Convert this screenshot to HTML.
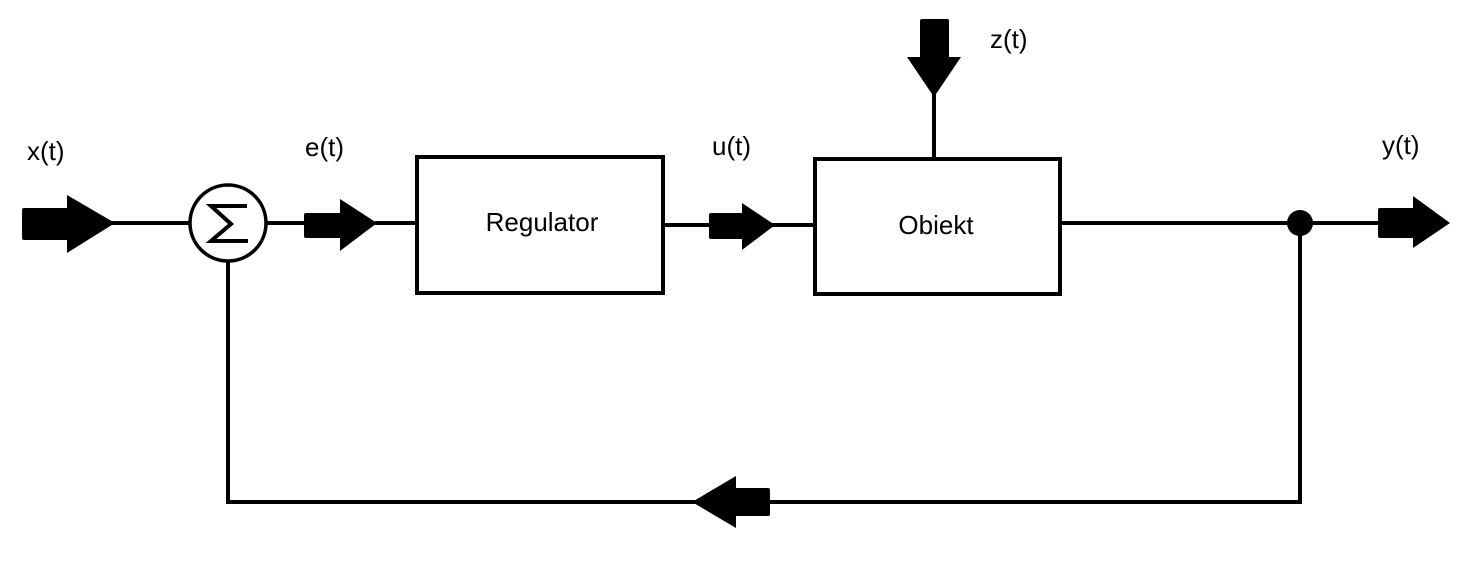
<!DOCTYPE html>
<html><head><style>body{margin:0;background:#fff}svg{display:block}text{font-family:"Liberation Sans",sans-serif;font-size:26px;fill:#000}</style></head>
<body>
<svg width="1480" height="588" viewBox="0 0 1480 588" xmlns="http://www.w3.org/2000/svg">
<g stroke="#000" stroke-width="4" fill="none">
<line x1="110" y1="223" x2="190" y2="223"/>
<line x1="266" y1="223" x2="310" y2="223"/>
<line x1="375" y1="223" x2="417" y2="223"/>
<line x1="663" y1="225" x2="715" y2="225"/>
<line x1="770" y1="225" x2="813" y2="225"/>
<line x1="934" y1="90" x2="934" y2="158"/>
<line x1="1060" y1="223" x2="1385" y2="223"/>
<polyline points="1300,223 1300,502 228,502 228,261"/>
<rect x="417" y="157" width="246" height="136"/>
<rect x="815" y="159" width="245" height="135"/>
<circle cx="228" cy="223" r="38" stroke-width="3.5"/>
<polyline points="247,206 211,206 231,224 211,241 248,241" stroke-width="4"/>
</g>
<g fill="#000">
<rect x="22" y="208" width="50" height="32" rx="2"/><polygon points="67,195 115,223 67,253"/>
<rect x="304" y="213" width="40" height="25" rx="2"/><polygon points="340,199 377,223 340,251"/>
<rect x="709" y="213" width="37" height="26" rx="2"/><polygon points="742,203 775,225 742,250"/>
<rect x="920" y="19" width="29" height="42" rx="2"/><polygon points="907,57 961,57 934,97"/>
<circle cx="1300" cy="223" r="13"/>
<rect x="1378" y="208" width="40" height="30" rx="2"/><polygon points="1413,196 1450,223 1413,248"/>
<rect x="732" y="488" width="38" height="28" rx="2"/><polygon points="736,476 692,502 736,528"/>
</g>
<text x="27" y="160">x(t)</text>
<text x="305" y="156">e(t)</text>
<text x="712" y="155">u(t)</text>
<text x="990" y="48">z(t)</text>
<text x="1382" y="154">y(t)</text>
<text x="542" y="231" text-anchor="middle">Regulator</text>
<text x="936" y="234" text-anchor="middle">Obiekt</text>
</svg>
</body></html>
